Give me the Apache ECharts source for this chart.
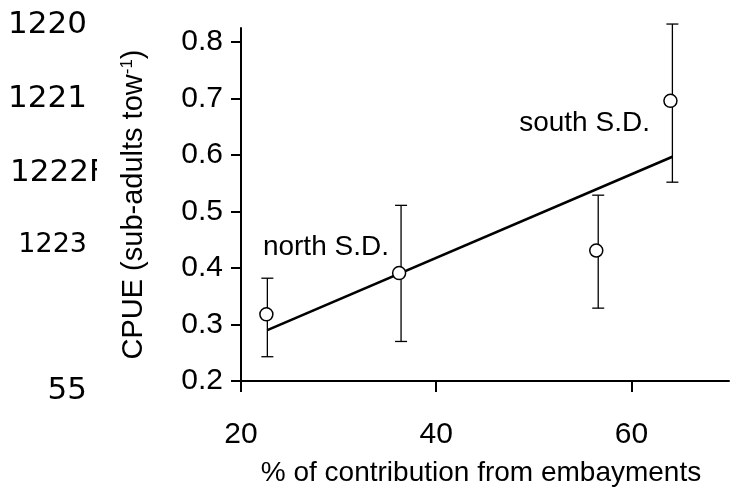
<!DOCTYPE html>
<html>
<head>
<meta charset="utf-8">
<style>html,body{margin:0;padding:0;background:#fff}#c{width:730px;height:496px}</style>
<script src="https://cdn.jsdelivr.net/npm/echarts@6/dist/echarts.min.js"></script>
</head>
<body>
<div id="c"></div>
<script>
// ---- data ----
const xTicks = [20, 40, 60];
const yTicks = [0.2, 0.3, 0.4, 0.5, 0.6, 0.7, 0.8];
const pointX = [22.6, 36.2, 56.4, 64.0];
const pointY = [0.318, 0.391, 0.431, 0.696];
const errX = [22.7, 36.4, 56.6, 64.2];
const errLow = [0.243, 0.270, 0.329, 0.552];
const errHigh = [0.382, 0.511, 0.529, 0.832];
const fitX = [22.7, 64.2];
const fitY = [0.290, 0.597];
const annoText = ['north S.D.', 'south S.D.'];
const annoX = [28.7, 55.2];
const annoY = [0.437, 0.656];
const strayText = ['1220', '1221', '1222F', '1223', '55'];
const xName = '% of contribution from embayments';

const chart = echarts.init(document.getElementById('c'), null, {renderer: 'canvas'});
const FONT = 'Liberation Sans';
const strayY = [25, 99, 173, 245, 391];
const straySize = [31, 31, 31, 27, 31];
const strayRight = [87, 87, 0, 87, 87];

const graphics = strayText.map((t, i) => ({
  type: 'text',
  style: {
    text: t,
    x: t === '1222F' ? 10 : strayRight[i],
    y: strayY[i],
    fill: '#000',
    font: straySize[i] + 'px "DejaVu Sans"',
    textAlign: t === '1222F' ? 'left' : 'right',
    textVerticalAlign: 'middle'
  }
}));
graphics.push({type: 'rect', shape: {x: 97, y: 155, width: 18, height: 36}, style: {fill: '#fff'}, z: 10});

chart.setOption({
  backgroundColor: '#fff',
  animation: false,
  graphic: graphics,
  grid: {left: 241, right: 1, top: 28, bottom: 115, containLabel: false},
  xAxis: {
    type: 'value', min: 20, max: 70, interval: 20,
    name: xName, nameLocation: 'middle', nameGap: 78,
    nameTextStyle: {fontFamily: FONT, fontSize: 28, color: '#000', padding: [0, 8, 0, 0]},
    axisLine: {show: true, onZero: false, lineStyle: {color: '#000', width: 2}},
    axisTick: {show: true, length: 11, lineStyle: {color: '#000', width: 2}, customValues: xTicks},
    axisLabel: {fontFamily: FONT, fontSize: 30, color: '#000', margin: 39, customValues: xTicks},
    splitLine: {show: false}
  },
  yAxis: {
    type: 'value', min: 0.2, max: 0.825, interval: 0.1,
    name: 'CPUE (sub-adults tow{sup|-1})', nameLocation: 'middle', nameGap: 93,
    nameTextStyle: {fontFamily: FONT, fontSize: 29, color: '#000',
      rich: {sup: {fontFamily: FONT, fontSize: 17, color: '#000', verticalAlign: 'top'}}},
    axisLine: {show: true, onZero: false, lineStyle: {color: '#000', width: 2}},
    axisTick: {show: true, length: 10, lineStyle: {color: '#000', width: 2}, customValues: yTicks},
    axisLabel: {fontFamily: FONT, fontSize: 30, color: '#000', margin: 18,
      customValues: yTicks, formatter: v => v.toFixed(1)},
    splitLine: {show: false}
  },
  series: [
    {
      type: 'custom', clip: false, z: 2,
      data: errX.map((x, i) => [x, errLow[i], errHigh[i]]),
      renderItem: (params, api) => {
        const lo = api.coord([api.value(0), api.value(1)]);
        const hi = api.coord([api.value(0), api.value(2)]);
        const w = 6;
        const st = {stroke: '#000', lineWidth: 1.3};
        return {type: 'group', children: [
          {type: 'line', shape: {x1: hi[0], y1: hi[1], x2: lo[0], y2: lo[1]}, style: st},
          {type: 'line', shape: {x1: hi[0] - w, y1: hi[1], x2: hi[0] + w, y2: hi[1]}, style: st},
          {type: 'line', shape: {x1: lo[0] - w, y1: lo[1], x2: lo[0] + w, y2: lo[1]}, style: st}
        ]};
      }
    },
    {
      type: 'line', z: 3, symbol: 'none',
      data: fitX.map((x, i) => [x, fitY[i]]),
      lineStyle: {color: '#000', width: 2.6}
    },
    {
      type: 'scatter', z: 4, symbol: 'circle', symbolSize: 13,
      data: pointX.map((x, i) => [x, pointY[i]]),
      itemStyle: {color: '#fff', borderColor: '#000', borderWidth: 1.5, opacity: 1}
    },
    {
      type: 'scatter', z: 5, symbolSize: 0, silent: true,
      itemStyle: {opacity: 1},
      data: annoX.map((x, i) => ({value: [x, annoY[i]], name: annoText[i]})),
      label: {show: true, position: 'inside', formatter: p => p.name,
        fontFamily: FONT, fontSize: 28, color: '#000', opacity: 1}
    }
  ]
});
</script>
</body>
</html>
